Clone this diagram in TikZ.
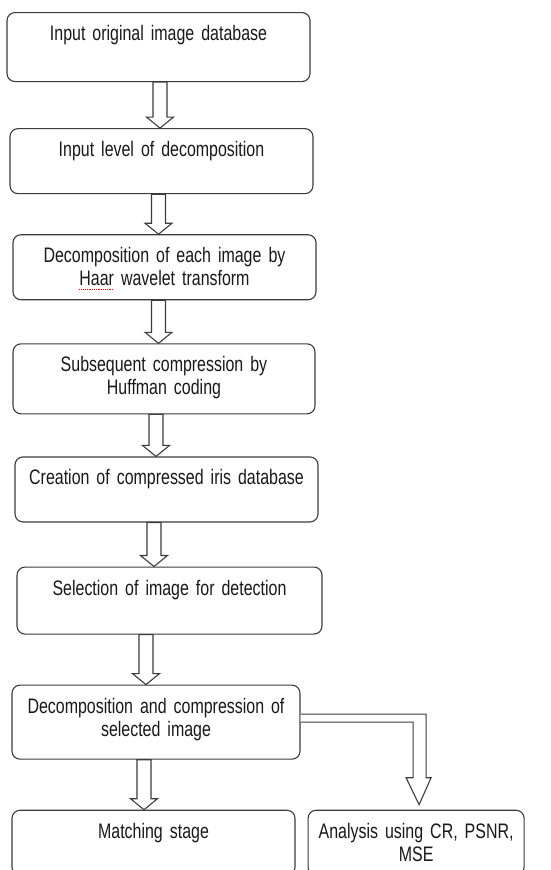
\documentclass[tikz,border=0pt]{standalone}
\usepackage{fontspec}
\setmainfont[FakeStretch=0.76]{Liberation Sans}
\usepackage{tikz}
\usetikzlibrary{positioning, calc}
\definecolor{linegray}{RGB}{60, 60, 60}
\definecolor{textgray}{RGB}{25, 25, 25}

% red spell-check mark under a word
\newcommand{\redmark}[1]{\leavevmode\setbox0=\hbox{#1}\rlap{\copy0}%
  \lower3.5pt\hbox to \wd0{\color{red}\xleaders\hbox{\rule{0.9pt}{0.7pt}\kern0.9pt}\hfill}}

% hollow block arrow from the bottom of #1 to the top of #2, shifted by #3
\newcommand{\flowarrow}[3]{%
  \draw[hollow] let \p1=($(#1.south)+(#3pt,0pt)$), \p2=(#2.north) in
    (\x1-7pt,\y1) -- (\x1+7pt,\y1) -- (\x1+7pt,\y2+11pt) -- (\x1+13.5pt,\y2+11pt)
    -- (\x1,\y2) -- (\x1-13.5pt,\y2+11pt) -- (\x1-7pt,\y2+11pt) -- cycle;}

\begin{document}
\begin{tikzpicture}[
    x=1pt, y=-1pt,
    box/.style={draw=linegray, line width=1.1pt, rounded corners=8pt, fill=white, text=textgray,
      inner sep=0pt, align=center, text height=28pt, font=\fontsize{21pt}{23pt}\selectfont},
    hollow/.style={draw=linegray, line width=1.1pt, fill=white, line join=miter}
]
    \useasboundingbox (0,0) rectangle (550,870);

    % Nodes
    \node[box, anchor=north, text width=303pt, text depth=41pt] (db) at (158.5,12) {Input original image database};
    \node[box, below=46pt of db, xshift=3pt, text width=303pt, text depth=37pt] (lvl) {Input level of decomposition};
    \node[box, below=40pt of lvl, xshift=3pt, text width=303pt, text depth=37pt] (dec) {Decomposition of each image by\\\redmark{Haar} wavelet transform};
    \node[box, below=43pt of dec, xshift=-0.5pt, text width=302pt, text depth=42pt] (huff) {Subsequent compression by\\Huffman coding};
    \node[box, below=42pt of huff, xshift=2.5pt, text width=303pt, text depth=37pt] (cdb) {Creation of compressed iris database};
    \node[box, below=44pt of cdb, xshift=3pt, text width=305pt, text depth=39pt] (sel) {Selection of image for detection};
    \node[box, below=50pt of sel, xshift=-13.5pt, text width=288pt, text depth=46pt] (proc) {Decomposition and compression of\\selected image};
    \node[box, below=50pt of proc, xshift=-2.5pt, text width=283pt, text depth=37pt] (match) {Matching stage};
    \node[box, right=12pt of match, text width=216pt, text depth=37pt] (ana) {Analysis using CR, PSNR,\\MSE};

    % Arrows
    \flowarrow{db}{lvl}{1.5}
    \flowarrow{lvl}{dec}{-3}
    \flowarrow{dec}{huff}{-6}
    \flowarrow{huff}{cdb}{-8}
    \flowarrow{cdb}{sel}{-12.5}
    \flowarrow{sel}{proc}{-23.5}
    \flowarrow{proc}{match}{-12}
    \draw[hollow] let \p1=(proc.east), \p2=(ana.north) in
      (\x1,\y1+8pt) -- (\x2+10pt,\y1+8pt) -- (\x2+10pt,\y2+32pt) -- (\x2+15pt,\y2+32pt)
      -- (\x2+3pt,\y2+5pt) -- (\x2-10pt,\y2+32pt) -- (\x2-3pt,\y2+32pt) -- (\x2-3pt,\y1) -- (\x1,\y1);
\end{tikzpicture}
\end{document}
